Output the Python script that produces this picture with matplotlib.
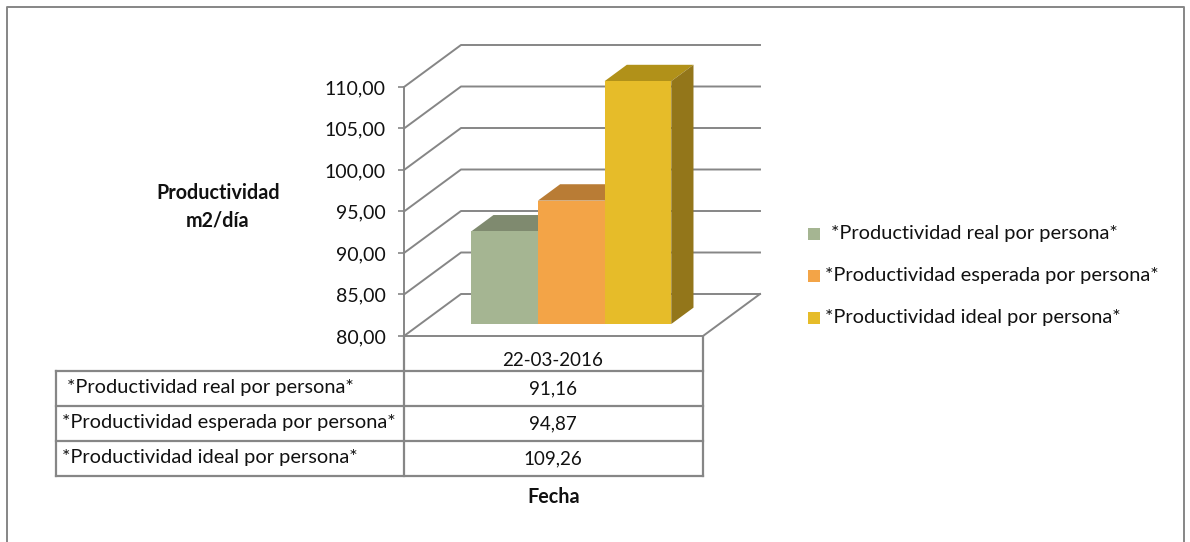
import numpy as np
import matplotlib
matplotlib.use("Agg")
import matplotlib.pyplot as plt
from matplotlib.patches import Polygon, Rectangle

plt.rcParams['font.family'] = ['Lato', 'DejaVu Sans']

categoria = "22-03-2016"
series = ["*Productividad real por persona*",
          "*Productividad esperada por persona*",
          "*Productividad ideal por persona*"]
valores = [91.16, 94.87, 109.26]
valores_txt = ["91,16", "94,87", "109,26"]
y_ticks = [80, 85, 90, 95, 100, 105, 110]

color_frente = ["#A5B592", "#F3A447", "#E6BC29"]
color_arriba = ["#7F8A6F", "#B97C35", "#B19119"]
color_lado = ["#7F8A6F", "#B97C35", "#93761A"]
gris = "#868686"
negro = "#111111"
fs = 14.4
fs_ticks = 14.0
fs_tabla = 13.5
fs_bold = 14.2

W, H = 1190, 542
fig = plt.figure(figsize=(W/100, H/100), dpi=100)

# capa en pixeles para marco, tabla y leyenda
capa = fig.add_axes([0, 0, 1, 1])
capa.set_xlim(0, W)
capa.set_ylim(H, 0)
capa.axis("off")

# plano frontal del grafico
ax = fig.add_axes([404/W, 1-336/H, 299/W, 249/H])
ax.set_xlim(0, 1)
ax.set_ylim(80, 110)
ax.patch.set_alpha(0)
for s in ["top", "right", "bottom"]:
    ax.spines[s].set_visible(False)
ax.spines["left"].set_color(gris)
ax.spines["left"].set_linewidth(1.4)
ax.set_xticks([])
ax.set_yticks(y_ticks)
ax.set_yticklabels([f"{v:.2f}".replace(".", ",") for v in y_ticks], fontsize=fs_ticks, color=negro)
ax.tick_params(axis="y", color=gris, width=1.2, length=4.3, pad=9)

# perspectiva falsa: prof 0 adelante, prof 1 pared del fondo
dx = 57/299
dy = 42/(249/30)

def pt(x, y, prof):
    return (x + prof*dx, y + prof*dy)

# pared y piso
for v in y_ticks:
    xs = [pt(0, v, 0)[0], pt(0, v, 1)[0], pt(1, v, 1)[0]]
    ys = [pt(0, v, 0)[1], pt(0, v, 1)[1], pt(1, v, 1)[1]]
    ax.plot(xs, ys, color=gris, lw=1.4, clip_on=False, zorder=1)
piso = [pt(1, 80, 1), pt(1, 80, 0), pt(0, 80, 0)]
ax.plot([p[0] for p in piso], [p[1] for p in piso], color=gris, lw=1.4, clip_on=False, zorder=1)

# barras
ancho = 66.67/299
x0 = 51/299
p1, p2 = 0.285, 0.675
for i, v in enumerate(valores):
    a = x0 + i*ancho
    b = a + ancho
    arriba = [pt(a, v, p1), pt(b, v, p1), pt(b, v, p2), pt(a, v, p2)]
    lado = [pt(b, 80, p1), pt(b, v, p1), pt(b, v, p2), pt(b, 80, p2)]
    frente = [pt(a, 80, p1), pt(b, 80, p1), pt(b, v, p1), pt(a, v, p1)]
    ax.add_patch(Polygon(arriba, fc=color_arriba[i], ec="none", clip_on=False, zorder=2+i))
    ax.add_patch(Polygon(lado, fc=color_lado[i], ec="none", clip_on=False, zorder=2+i))
    ax.add_patch(Polygon(frente, fc=color_frente[i], ec="none", clip_on=False, zorder=2+i))

# marco exterior
capa.plot([7, 7, 1184, 1184], [542, 7, 7, 542], color=gris, lw=1.4)

# tabla de datos
filas_y = [371, 406, 441, 476]
capa.plot([404, 404], [337, 476], color=gris, lw=1.6)
capa.plot([703, 703], [337, 476], color=gris, lw=1.6)
capa.plot([56, 56], [371, 476], color=gris, lw=1.6)
for y in filas_y:
    capa.plot([56, 703], [y, y], color=gris, lw=1.6)
capa.text(553, 360, categoria, ha="center", va="center", fontsize=fs_tabla, color=negro)
inicio = [67, 62, 62]
for i in range(3):
    yc = (filas_y[i] + filas_y[i+1])/2 - 1
    capa.text(inicio[i], yc, series[i], ha="left", va="center", fontsize=fs, color=negro)
    capa.text(553, yc + 1, valores_txt[i], ha="center", va="center", fontsize=fs_tabla, color=negro)

# titulos de ejes
capa.text(218, 207, "Productividad\nm2/día", ha="center", va="center", fontsize=fs_bold,
          fontweight="bold", linespacing=1.45, color=negro)
capa.text(554, 497, "Fecha", ha="center", va="center", fontsize=fs_bold, fontweight="bold", color=negro)

# leyenda
leg_y = [234, 276, 318]
leg_x = [831, 825, 825]
for i in range(3):
    capa.add_patch(Rectangle((808, leg_y[i]-6), 12, 12, fc=color_frente[i], ec="none"))
    capa.text(leg_x[i], leg_y[i]-1, series[i], ha="left", va="center", fontsize=fs, color=negro)

fig.savefig("out.png", dpi=100)
